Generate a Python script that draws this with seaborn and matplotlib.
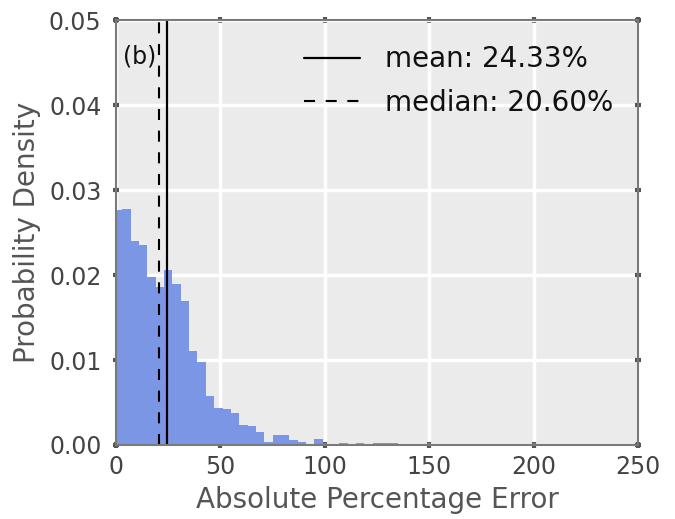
import pandas as pd
import matplotlib
matplotlib.use("Agg")
import matplotlib.pyplot as plt
import seaborn as sns

# Histogram of absolute percentage error (density per 4-point bin)
bin_start = -1.0
bin_width = 4.0
density = [
    0.0277, 0.0278, 0.0240, 0.0236, 0.0198, 0.0186, 0.0206, 0.0189,
    0.0169, 0.0111, 0.0098, 0.0058, 0.0043, 0.0042, 0.0038, 0.0024,
    0.0022, 0.0015, 0.0004, 0.0012, 0.0012, 0.00055, 0.0004, 0.0001,
    0.0007, 0.0, 0.0, 0.00025, 0.0, 0.00025, 0.0, 0.00025,
    0.00025, 0.00025, 0.0, 0.0, 0.0, 0.0, 0.0, 0.0,
    0.0, 0.0, 0.0001, 0.0, 0.0, 0.0, 0.0, 0.0,
    0.0, 0.0, 0.0, 0.0, 0.0, 0.0001,
]
mean_ape = 24.33
median_ape = 20.60

x_ticks = [0, 50, 100, 150, 200, 250]
y_ticks = [0.00, 0.01, 0.02, 0.03, 0.04, 0.05]

edges = [bin_start + bin_width * i for i in range(len(density) + 1)]
centers = [(a + b) / 2 for a, b in zip(edges[:-1], edges[1:])]
df = pd.DataFrame({"ape": centers, "density": density})

sns.set_theme(style="darkgrid", rc={
    "axes.facecolor": "#ebebeb",
    "grid.color": "white",
    "grid.linewidth": 2.5,
    "axes.edgecolor": "#7a7a7a",
    "axes.linewidth": 1.5,
})
plt.rcParams["font.family"] = ["DejaVu Sans"]

fig = plt.figure(figsize=(6.75, 5.19), dpi=100)
ax = fig.add_axes([0.172, 0.1426, 0.773, 0.8184])

sns.histplot(data=df, x="ape", weights="density", bins=edges, stat="count",
             color="#7b96e4", alpha=1.0, edgecolor="none", linewidth=0,
             ax=ax)

ax.axvline(mean_ape, color="black", lw=1.6, label=f"mean: {mean_ape:.2f}%")
ax.axvline(median_ape, color="black", lw=1.5, ls=(0, (5.3, 5.1)),
           label=f"median: {median_ape:.2f}%")

ax.set_xlim(0, 250)
ax.set_ylim(0, 0.05)
ax.set_xticks(x_ticks)
ax.set_yticks(y_ticks)
ax.set_xticklabels([str(t) for t in x_ticks])
ax.set_yticklabels([f"{t:.2f}" for t in y_ticks])

ax.set_xlabel("Absolute Percentage Error", fontsize=20, color="#555555",
              labelpad=5)
ax.set_ylabel("Probability Density", fontsize=20, color="#555555",
              labelpad=6)

ax.tick_params(axis="both", which="major", labelsize=17, labelcolor="#444444",
               color="#555555", direction="inout", length=5, width=3,
               top=True, right=True, bottom=True, left=True)
ax.tick_params(axis="x", pad=5)
ax.tick_params(axis="y", pad=8)

ax.text(0.013, 0.915, "(b)", transform=ax.transAxes, fontsize=17,
        color="#111111", ha="left", va="center")

leg = ax.legend(loc="upper right", fontsize=20, frameon=False,
                handlelength=2.0, handletextpad=0.9, labelspacing=0.57,
                borderaxespad=0.5)
for t in leg.get_texts():
    t.set_color("#111111")

fig.savefig("out.png", dpi=100)
